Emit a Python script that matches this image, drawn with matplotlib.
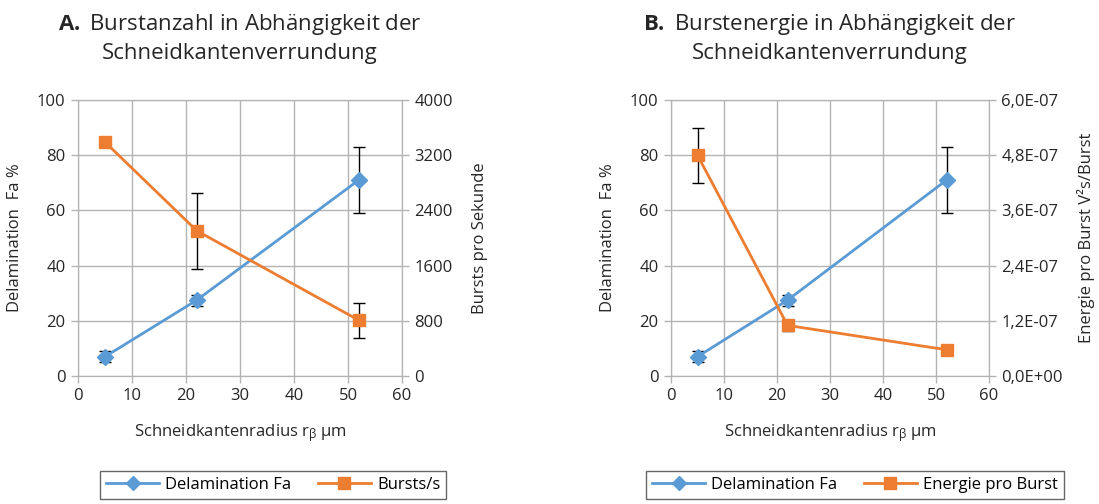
import matplotlib
matplotlib.use("Agg")
import matplotlib.pyplot as plt
from matplotlib.lines import Line2D
from matplotlib.ticker import FuncFormatter, MultipleLocator

plt.rcParams["font.family"] = ["Open Sans", "DejaVu Sans"]
plt.rcParams["mathtext.fontset"] = "custom"
plt.rcParams["mathtext.rm"] = "Open Sans"
plt.rcParams["mathtext.it"] = "Open Sans"
plt.rcParams["mathtext.bf"] = "Open Sans:bold"

# data
radius = [5, 22, 52]
delam = [7, 27.5, 71]
delam_err = [2, 2, 12]
bursts = [3390, 2105, 808]
bursts_err = [0, 550, 254]
energie = [4.8e-7, 1.1e-7, 0.57e-7]
energie_err = [0.6e-7, 0.12e-7, 0]

BLUE = "#5B9BD5"
ORANGE = "#ED7D31"
GRID = "#b3b3b3"
TXT = "#262626"
FS = 12

fig = plt.figure(figsize=(10.99, 5.04), dpi=100)
W, H = 1099, 504


def panel(x0, x1, letter, title, y2, y2err, y2max, y2step, y2fmt, y2label, name2, pad2, lx):
    ax = fig.add_axes([x0 / W, 1 - 376 / H, (x1 - x0) / W, 276 / H])
    ax2 = ax.twinx()

    ax.errorbar(radius, delam, yerr=delam_err, color=BLUE, lw=2, marker="D",
                ms=8.5, ecolor="black", elinewidth=1, capsize=4, capthick=1,
                zorder=3)
    ax2.errorbar(radius, y2, yerr=y2err, color=ORANGE, lw=2, marker="s",
                 ms=8, ecolor="black", elinewidth=1, capsize=4, capthick=1,
                 zorder=3)

    ax.set_xlim(0, 60)
    ax.set_ylim(0, 100)
    ax2.set_ylim(0, y2max)
    ax.xaxis.set_major_locator(MultipleLocator(10))
    ax.yaxis.set_major_locator(MultipleLocator(20))
    ax2.yaxis.set_major_locator(MultipleLocator(y2step))
    if y2fmt:
        ax2.yaxis.set_major_formatter(FuncFormatter(y2fmt))

    ax.grid(True, color=GRID, lw=1)
    ax.set_axisbelow(True)
    for a in (ax, ax2):
        for s in a.spines.values():
            s.set_color(GRID)
        a.tick_params(colors=GRID, labelcolor=TXT, labelsize=FS,
                      length=5, width=1, direction="out", pad=4)

    ax.set_ylabel("Delamination  Fa %", fontsize=FS, color=TXT, labelpad=10)
    ax2.set_ylabel(y2label, fontsize=FS, color=TXT, labelpad=pad2)
    ax.set_xlabel(r"Schneidkantenradius r$_\beta$ µm", fontsize=FS,
                  color=TXT, labelpad=13)

    ax.text(0.5, 1 + 62 / 276, r"$\mathbf{" + letter + ".}$ " + title,
            transform=ax.transAxes, ha="center", va="center", fontsize=16,
            color=TXT, linespacing=1.35)

    # legend box below each panel, cut by the lower image edge
    handles = [
        Line2D([], [], color=BLUE, lw=2, marker="D", ms=7),
        Line2D([], [], color=ORANGE, lw=2, marker="s", ms=9),
    ]
    leg = fig.legend(handles, ["Delamination Fa", name2], loc="upper left",
                     bbox_to_anchor=(lx / W, 1 - 471 / H), ncol=2,
                     fontsize=FS, frameon=True, fancybox=False,
                     edgecolor="#404040", handlelength=3.2, handletextpad=0.35,
                     columnspacing=1.6, borderpad=0.35, borderaxespad=0)
    leg.get_frame().set_linewidth(1)
    return ax, ax2


def sci_comma(v, pos):
    return f"{v:.1E}".replace(".", ",")


panel(78, 402, "A", "Burstanzahl in Abhängigkeit der\nSchneidkantenverrundung",
      bursts, bursts_err, 4000, 800, None, "Bursts pro Sekunde", "Bursts/s", 14, 100)
panel(671, 989, "B", "Burstenergie in Abhängigkeit der\nSchneidkantenverrundung",
      energie, energie_err, 6e-7, 1.2e-7, sci_comma,
      "Energie pro Burst V²s/Burst", "Energie pro Burst", 10, 646)

fig.savefig("out.png", dpi=100)
